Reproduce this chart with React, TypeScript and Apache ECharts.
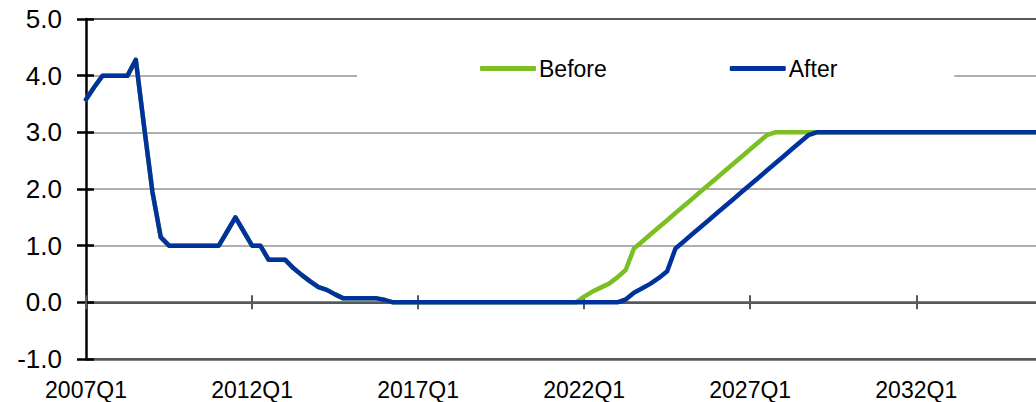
import React, { useEffect, useRef } from "react";
import * as echarts from "echarts";

// Quarterly categories 2007Q1 .. 2036Q4
const firstYear = 2007;
const lastYear = 2036;
const quarters: string[] = [];
for (let y = firstYear; y <= lastYear; y++) {
  for (let q = 1; q <= 4; q++) quarters.push(`${y}Q${q}`);
}

// Observed path, 2007Q1 .. 2021Q4 (shared by both scenarios)
const history = [
  3.58, 3.8, 4.0, 4.0, 4.0, 4.0, 4.28, 3.1, 1.95, 1.15,
  1.0, 1.0, 1.0, 1.0, 1.0, 1.0, 1.0, 1.25, 1.5, 1.25,
  1.0, 1.0, 0.75, 0.75, 0.75, 0.6, 0.48, 0.37, 0.27, 0.22,
  0.14, 0.07, 0.07, 0.07, 0.07, 0.07, 0.04, 0, 0, 0,
  0, 0, 0, 0, 0, 0, 0, 0, 0, 0,
  0, 0, 0, 0, 0, 0, 0, 0, 0, 0,
];

// Outlook, 2022Q1 .. 2036Q4
const beforeOutlook = [
  0.1, 0.19, 0.26, 0.33, 0.44, 0.57, 0.95, 1.075, 1.2, 1.325,
  1.45, 1.575, 1.7, 1.825, 1.95, 2.075, 2.2, 2.325, 2.45, 2.575,
  2.7, 2.825, 2.95, 3, 3, 3, 3, 3, 3, 3,
  3, 3, 3, 3, 3, 3, 3, 3, 3, 3,
  3, 3, 3, 3, 3, 3, 3, 3, 3, 3,
  3, 3, 3, 3, 3, 3, 3, 3, 3, 3,
];

const afterOutlook = [
  0, 0, 0, 0, 0, 0.05, 0.17, 0.25, 0.33, 0.43,
  0.55, 0.95, 1.075, 1.2, 1.325, 1.45, 1.575, 1.7, 1.825, 1.95,
  2.075, 2.2, 2.325, 2.45, 2.575, 2.7, 2.825, 2.95, 3, 3,
  3, 3, 3, 3, 3, 3, 3, 3, 3, 3,
  3, 3, 3, 3, 3, 3, 3, 3, 3, 3,
  3, 3, 3, 3, 3, 3, 3, 3, 3, 3,
];

const seriesNames = ["Before", "After"];
const seriesColors = ["#7bbf22", "#00329e"];
const beforeValues = history.concat(beforeOutlook);
const afterValues = history.concat(afterOutlook);

const yMin = -1;
const yMax = 5;
const yStep = 1;

const FONT = "'Liberation Sans', Arial, sans-serif";
const DARK = "#57595b";
const LIGHT = "#b2aeae";

// The plot runs on past the right edge of the window
const CHART_W = 1100;
const CHART_H = 402;

export default function App() {
  const ref = useRef<HTMLDivElement>(null);

  useEffect(() => {
    if (!ref.current) return;
    const chart = echarts.init(ref.current, undefined, { renderer: "svg" });
    const tickEvery = 19;

    chart.setOption({
      animation: false,
      backgroundColor: "#ffffff",
      textStyle: { fontFamily: FONT },
      grid: { left: 86, top: 19, width: 988, bottom: 43, containLabel: false },
      legend: {
        left: 357,
        top: 50,
        padding: [7, 117, 7, 123],
        backgroundColor: "#ffffff",
        itemGap: 123,
        itemWidth: 56,
        itemHeight: 5,
        icon: "roundRect",
        textStyle: { fontSize: 23, color: "#000", fontFamily: FONT, padding: [0, 0, 0, -2] },
        data: seriesNames,
        z: 10,
      },
      xAxis: [
        {
          // zero line with downward ticks
          type: "category",
          data: quarters,
          boundaryGap: false,
          position: "bottom",
          axisLine: { onZero: true, lineStyle: { color: DARK, width: 2.5 } },
          axisTick: { interval: tickEvery, length: 7, lineStyle: { color: DARK, width: 2 } },
          axisLabel: { show: false },
          splitLine: { show: false },
        },
        {
          // bottom edge carrying the labels
          type: "category",
          data: quarters,
          boundaryGap: false,
          position: "bottom",
          axisLine: { onZero: false, lineStyle: { color: DARK, width: 2.5 } },
          axisTick: { show: false },
          axisLabel: {
            interval: tickEvery,
            margin: 19,
            fontSize: 23,
            color: "#000",
            fontFamily: FONT,
          },
          splitLine: { show: false },
        },
        {
          // upward half of the zero-line ticks
          type: "category",
          data: quarters,
          boundaryGap: false,
          position: "bottom",
          axisLine: { show: false, onZero: true },
          axisTick: { inside: true, interval: tickEvery, length: 7, lineStyle: { color: DARK, width: 2 } },
          axisLabel: { show: false },
          splitLine: { show: false },
        },
      ],
      yAxis: [
        {
          type: "value",
          min: yMin,
          max: yMax,
          interval: yStep,
          position: "left",
          axisLine: { show: true, onZero: false, lineStyle: { color: "#000", width: 2.5 } },
          axisTick: { show: true, length: 9, lineStyle: { color: "#000", width: 2.5 } },
          axisLabel: {
            margin: 24,
            fontSize: 26,
            color: "#000",
            fontFamily: FONT,
            formatter: (v: number) => v.toFixed(1),
          },
          splitLine: {
            show: true,
            lineStyle: { color: [DARK, DARK, LIGHT, LIGHT, LIGHT, LIGHT, DARK], width: 2 },
          },
        },
        {
          type: "value",
          min: yMin,
          max: yMax,
          interval: yStep,
          position: "left",
          axisLine: { show: false, onZero: false },
          axisTick: { show: true, inside: true, length: 8, lineStyle: { color: "#000", width: 2.5 } },
          axisLabel: { show: false },
          splitLine: { show: false },
        },
      ],
      series: [
        {
          name: seriesNames[0],
          type: "line",
          data: beforeValues,
          xAxisIndex: 0,
          yAxisIndex: 0,
          symbol: "none",
          color: seriesColors[0],
          lineStyle: { width: 4.5, color: seriesColors[0], cap: "round", join: "round" },
          z: 3,
        },
        {
          name: seriesNames[1],
          type: "line",
          data: afterValues,
          xAxisIndex: 0,
          yAxisIndex: 0,
          symbol: "none",
          color: seriesColors[1],
          lineStyle: { width: 4.5, color: seriesColors[1], cap: "round", join: "round" },
          z: 4,
        },
      ],
    });

    return () => chart.dispose();
  }, []);

  return (
    <div style={{ position: "fixed", left: 0, top: 0, width: 1036, height: CHART_H, overflow: "hidden", background: "#fff" }}>
      <div ref={ref} style={{ width: CHART_W, height: CHART_H }} />
    </div>
  );
}
